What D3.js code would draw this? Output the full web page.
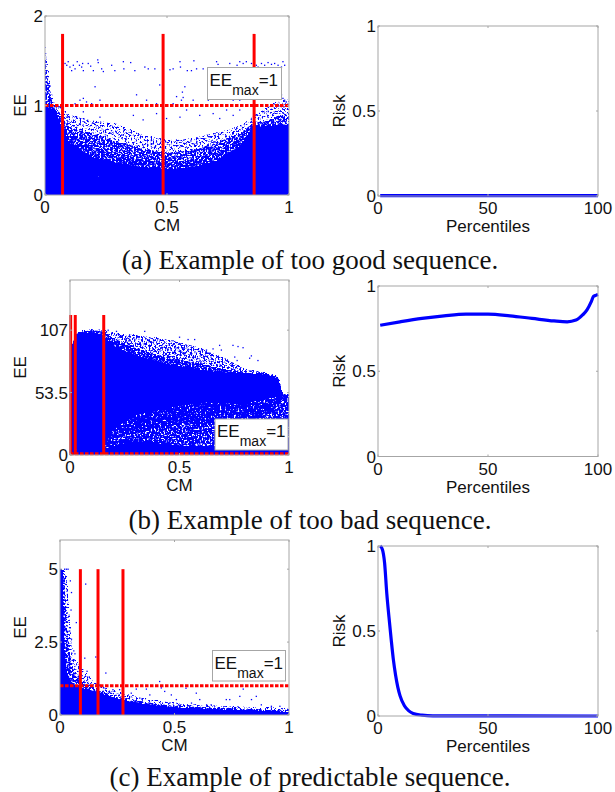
<!DOCTYPE html>
<html>
<head>
<meta charset="utf-8">
<script src="https://cdn.jsdelivr.net/npm/d3@7"></script>
<style>
  html, body { margin: 0; padding: 0; background: #fff; }
  svg { display: block; }
  text { font-family: "Liberation Sans", sans-serif; fill: #111; }
  .caption { font-family: "Liberation Serif", serif; font-size: 27px; }
</style>
</head>
<body>
<div id="host"><svg width="615" height="792"><defs></defs></svg></div>
<script>
const BLUE = "#0000ff";
const RED = "#ff0000";
const AXIS = "#a6a6a6";

const SOLID = 1;
const FULLISH = 0.74;
const NEAR = 0.68;
const THICK = 0.63;
const THIN = 0.54;
const FAINT = 0.49;

// panel (a), too good
const A_X_TICKS = [0, 0.5, 1];
const A_Y_TICKS = [0, 1, 2];
const A_CM = [0, 0.005, 0.01, 0.02, 0.03, 0.04, 0.07, 0.1, 0.2, 0.3, 0.4, 0.5, 0.6, 0.7, 0.8, 0.85, 0.9, 0.95, 1];
const A_SOLID = [1.0, 0.99, 0.98, 0.97, 0.96, 0.95, 0.76, 0.58, 0.42, 0.36, 0.31, 0.29, 0.31, 0.38, 0.55, 0.76, 0.77, 0.78, 0.78];
const A_NEAR = [1.4, 1.3, 1.2, 1.05, 1.0, 0.97, 0.84, 0.68, 0.54, 0.47, 0.4, 0.37, 0.4, 0.48, 0.64, 0.78, 0.79, 0.8, 0.8];
const A_THICK = [1.55, 1.45, 1.35, 1.15, 1.05, 1.0, 0.88, 0.76, 0.68, 0.6, 0.52, 0.47, 0.5, 0.58, 0.7, 0.8, 0.82, 0.88, 0.92];
const A_THIN = [1.68, 1.62, 1.5, 1.32, 1.15, 1.03, 0.98, 0.9, 0.84, 0.8, 0.68, 0.62, 0.64, 0.7, 0.78, 0.88, 0.97, 1.05, 1.08];
const A_SPLITS = [0.072, 0.484, 0.857];
const A_POINTS = [
  [0.068, 1.41], [0.082, 1.47], [0.089, 1.45], [0.095, 1.49], [0.102, 1.43], [0.109, 1.39], [0.116, 1.45], [0.123, 1.41],
  [0.132, 1.49], [0.141, 1.45], [0.15, 1.43], [0.154, 1.47], [0.157, 1.39], [0.177, 1.47], [0.187, 1.44], [0.198, 1.39],
  [0.216, 1.51], [0.218, 1.48], [0.232, 1.41], [0.239, 1.38], [0.273, 1.45], [0.286, 1.39], [0.321, 1.49], [0.323, 1.41],
  [0.351, 1.48], [0.368, 1.39], [0.409, 1.43], [0.423, 1.41], [0.45, 1.41], [0.512, 1.4], [0.525, 1.41], [0.553, 1.49],
  [0.555, 1.43], [0.583, 1.39], [0.6, 1.39], [0.61, 1.5], [0.621, 1.41], [0.648, 1.41], [0.703, 1.49], [0.709, 1.46],
  [0.757, 1.47], [0.787, 1.45], [0.798, 1.49], [0.812, 1.47], [0.825, 1.49], [0.846, 1.47], [0.866, 1.45], [0.873, 1.43],
  [0.887, 1.47], [0.9, 1.45], [0.914, 1.48], [0.928, 1.46], [0.941, 1.47], [0.955, 1.45], [0.975, 1.49], [0.982, 1.45],
  [0.969, 1.43], [0.573, 1.21], [0.563, 1.15], [0.566, 1.09], [0.205, 1.21], [0.47, 1.23], [0.143, 1.06], [0.157, 1.08],
  [0.123, 1.02], [0.17, 1.04], [0.191, 1.02], [0.225, 1.06], [0.375, 1.12], [0.416, 1.06], [0.457, 1.02], [0.525, 1.02],
  [0.539, 1.1], [0.559, 1.06], [0.607, 1.06], [0.669, 1.06], [0.771, 1.06], [0.798, 1.06], [0.907, 1.08], [0.96, 1.08],
  [0.975, 1.08], [0.982, 1.06], [0.989, 1.04], [0.969, 1.12], [0.075, 0.91], [0.089, 0.87], [0.225, 0.87], [0.157, 0.93],
  [0.362, 0.89], [0.402, 0.84], [0.457, 0.91], [0.498, 0.855], [0.553, 0.87], [0.58, 0.95], [0.634, 0.89], [0.689, 0.91],
  [0.744, 0.95], [0.771, 0.89], [0.798, 0.95], [0.716, 0.855]
];

// panel (b), too bad
const B_X_TICKS = [0, 0.5, 1];
const B_Y_TICKS = [0, 53.5, 107];
const B_CM = [0, 0.01, 0.03, 0.05, 0.1, 0.15, 0.2, 0.3, 0.4, 0.5, 0.6, 0.7, 0.8, 0.9, 0.93, 0.95, 0.96, 0.97, 1];
const B_SOLID = [90, 95, 104, 105, 105, 103, 93, 86, 80, 76, 73, 71, 70, 69, 67, 66, 60, 52, 50];
const B_NEAR = [90, 95, 104, 106, 107, 106, 100, 92, 86, 82, 78, 74, 71, 70, 68, 67, 62, 53, 51];
const B_THIN = [90, 95, 105, 107, 108, 108, 105, 103, 101, 97, 92, 84, 74, 71, 69, 68, 63, 54, 52];
const B_HOLE_LOW = [5, 5, 5, 5, 5, 5, 8, 12, 10, 8, 8, 8, 9, 10, 10, 10, 10, 10, 10];
const B_HOLE_HIGH = [5, 5, 5, 5, 5, 5, 22, 34, 38, 42, 45, 44, 44, 48, 49, 50, 50, 50, 50];
const B_CORE_LOW = [12, 12, 12, 12, 12, 12, 14, 14, 13, 10, 9, 9, 10, 12, 14, 15, 15, 15, 15];
const B_CORE_HIGH = [12, 12, 12, 12, 12, 12, 14, 18, 22, 26, 26, 25, 26, 34, 38, 42, 44, 46, 46];
const B_SPLITS = [0.003, 0.024, 0.154];
const B_POINTS = [
  [0.744, 94], [0.767, 93], [0.79, 92], [0.752, 84], [0.763, 81], [0.82, 83], [0.828, 85], [0.858, 81], [0.683, 94],
  [0.691, 90], [0.653, 91], [0.623, 90], [0.569, 99], [0.539, 99], [0.5, 101], [0.47, 98], [0.341, 106], [0.272, 103],
  [0.212, 106], [0.174, 107]
];

// panel (c), predictable
const C_X_TICKS = [0, 0.5, 1];
const C_Y_TICKS = [0, 2.5, 5];
const C_CM = [0, 0.012, 0.016, 0.02, 0.03, 0.04, 0.06, 0.1, 0.15, 0.2, 0.25, 0.3, 0.4, 0.5, 0.6, 0.7, 0.8, 0.9, 1];
const C_SOLID = [5, 5, 3.5, 2.2, 1.5, 1.25, 1.05, 0.92, 0.8, 0.68, 0.56, 0.46, 0.34, 0.27, 0.22, 0.2, 0.17, 0.15, 0.12];
const C_THICK = [5, 5, 5, 4.9, 3.4, 2.3, 1.5, 1.1, 0.9, 0.76, 0.64, 0.54, 0.41, 0.33, 0.28, 0.25, 0.22, 0.2, 0.17];
const C_THIN = [5, 5, 5, 5, 4.8, 3.8, 2, 1.6, 1.15, 0.95, 0.82, 0.72, 0.54, 0.44, 0.37, 0.33, 0.3, 0.28, 0.25];
const C_SPLITS = [0.089, 0.166, 0.275];
const C_POINTS = [
  [0.112, 4.49], [0.071, 3.17], [0.042, 2.88], [0.09, 1.99], [0.108, 1.95], [0.156, 1.99], [0.2, 1.44], [0.118, 1.5],
  [0.435, 1.15], [0.442, 0.93], [0.457, 0.81], [0.392, 0.69], [0.377, 0.89], [0.333, 0.89], [0.486, 0.69], [0.55, 0.92],
  [0.595, 0.75], [0.8, 0.89], [0.857, 0.64], [0.785, 0.64], [0.741, 0.53], [0.726, 0.53], [0.66, 0.35], [0.64, 0.35],
  [0.836, 0.53], [0.879, 0.35], [0.923, 0.3], [0.96, 0.3], [0.61, 0.53], [0.574, 0.41], [0.508, 0.53], [0.479, 0.41],
  [0.392, 0.41], [0.348, 0.58], [0.311, 0.75], [0.26, 0.87], [0.231, 0.87], [0.21, 0.75], [0.19, 0.93], [0.173, 1.03],
  [0.02, 5], [0.028, 5], [0.035, 5], [0.045, 4.6], [0.05, 4.2], [0.048, 3.6], [0.05, 2.6], [0.06, 2.2], [0.065, 2.1]
];

// right column
const RISK_X_TICKS = [0, 50, 100];
const RISK_Y_TICKS = [0, 0.5, 1];
const A_PCT = [1, 25, 50, 75, 100];
const A_RISK = [0.002, 0.002, 0.002, 0.002, 0.002];
const B_PCT = [1, 10, 20, 30, 40, 50, 60, 70, 80, 86, 90, 93, 95, 97, 98, 99, 100];
const B_RISK = [0.77, 0.79, 0.81, 0.825, 0.835, 0.835, 0.825, 0.81, 0.795, 0.79, 0.8, 0.83, 0.86, 0.91, 0.94, 0.945, 0.95];
const C_PCT = [1, 2, 3, 4, 5, 6, 7, 8, 9, 10, 12, 14, 16, 20, 25, 100];
const C_RISK = [1, 0.98, 0.9, 0.72, 0.58, 0.45, 0.33, 0.24, 0.17, 0.12, 0.06, 0.03, 0.015, 0.005, 0.001, 0];

const CAPTIONS = ["(a) Example of too good sequence.", "(b) Example of too bad sequence.", "(c) Example of predictable sequence."];

const svg = d3.select("#host svg");
const defs = svg.select("defs");

// stipple: alpha of the band decides how much of the noise survives
function addStipple(id, seed) {
  const f = defs.append("filter").attr("id", id)
    .attr("filterUnits", "userSpaceOnUse")
    .attr("x", 0).attr("y", 0).attr("width", 615).attr("height", 792)
    .attr("color-interpolation-filters", "sRGB");
  f.append("feTurbulence").attr("type", "fractalNoise").attr("baseFrequency", 0.55)
    .attr("numOctaves", 2).attr("seed", seed).attr("result", "noise");
  f.append("feComposite").attr("in", "SourceAlpha").attr("in2", "noise")
    .attr("operator", "arithmetic").attr("k1", 0).attr("k2", 1).attr("k3", 1).attr("k4", -1).attr("result", "sum");
  const t = f.append("feComponentTransfer").attr("in", "sum").attr("result", "mask");
  t.append("feFuncA").attr("type", "linear").attr("slope", 8).attr("intercept", 0);
  f.append("feFlood").attr("flood-color", BLUE).attr("result", "ink");
  f.append("feComposite").attr("in", "ink").attr("in2", "mask").attr("operator", "in");
}

function axes(g, x, y, xTicks, yTicks, xTitle, yTitle, titleX) {
  const [x0, x1] = x.range();
  const [y0, y1] = y.range();
  g.append("rect").attr("x", x0).attr("y", y1).attr("width", x1 - x0).attr("height", y0 - y1)
    .attr("fill", "none").attr("stroke", AXIS).attr("stroke-width", 1);

  const lines = g.append("g").attr("stroke", AXIS).attr("stroke-width", 1);
  for (const t of xTicks) {
    lines.append("line").attr("x1", x(t)).attr("x2", x(t)).attr("y1", y0).attr("y2", y0 - 2);
    lines.append("line").attr("x1", x(t)).attr("x2", x(t)).attr("y1", y1).attr("y2", y1 + 2);
    g.append("text").attr("x", x(t)).attr("y", y0 + 18).attr("text-anchor", "middle")
      .attr("font-size", 17).text(t);
  }
  for (const t of yTicks) {
    lines.append("line").attr("x1", x0).attr("x2", x0 + 2).attr("y1", y(t)).attr("y2", y(t));
    lines.append("line").attr("x1", x1).attr("x2", x1 - 2).attr("y1", y(t)).attr("y2", y(t));
    g.append("text").attr("x", x0 - 2).attr("y", y(t) + 6).attr("text-anchor", "end")
      .attr("font-size", 17).text(t);
  }
  g.append("text").attr("x", (x0 + x1) / 2).attr("y", y0 + 36).attr("text-anchor", "middle")
    .attr("font-size", 17).text(xTitle);
  g.append("text").attr("transform", `translate(${titleX},${(y0 + y1) / 2}) rotate(-90)`)
    .attr("text-anchor", "middle").attr("font-size", 17).text(yTitle);
}

function band(g, x, y, xs, lo, hi, alpha) {
  const area = d3.area()
    .x((d, i) => x(xs[i]))
    .y0((d, i) => y(lo ? lo[i] : 0))
    .y1((d, i) => y(hi[i]));
  g.append("path").attr("d", area(xs)).attr("fill", "#000").attr("fill-opacity", alpha);
}

function legend(g, bx, by, w, h) {
  g.append("rect").attr("x", bx).attr("y", by).attr("width", w).attr("height", h)
    .attr("fill", "#fff").attr("stroke", AXIS).attr("stroke-width", 1);
  const t = g.append("text").attr("x", bx + 2).attr("y", by + 18).attr("font-size", 17);
  t.append("tspan").text("EE");
  t.append("tspan").attr("dy", 9).attr("font-size", 14).text("max");
  t.append("tspan").attr("dy", -9).text("=1");
}

function scatter(box, domainY, cfg) {
  const x = d3.scaleLinear().domain([0, 1]).range([box.left, box.right]);
  const y = d3.scaleLinear().domain(domainY).range([box.bottom, box.top]);
  const g = svg.append("g");
  const marks = g.append("g").attr("filter", `url(#${cfg.filter})`);
  cfg.bands(marks, x, y);
  g.append("g").selectAll("rect").data(cfg.points).join("rect")
    .attr("x", (d) => x(d[0]) - 0.6).attr("y", (d) => y(d[1]) - 0.6)
    .attr("width", 1.3).attr("height", 1.3).attr("fill", BLUE);

  g.append("line").attr("x1", box.left).attr("x2", box.right).attr("y1", y(1)).attr("y2", y(1))
    .attr("stroke", RED).attr("stroke-width", 3).attr("stroke-dasharray", "3.5,1.5");
  g.selectAll("line.split").data(cfg.splits).join("line").attr("class", "split")
    .attr("x1", (d) => x(d)).attr("x2", (d) => x(d))
    .attr("y1", y(0)).attr("y2", y(cfg.splitTop))
    .attr("stroke", RED).attr("stroke-width", 3);

  axes(g, x, y, cfg.xTicks, cfg.yTicks, "CM", "EE", 26);
  legend(g, ...cfg.legend);
}

function risk(box, xs, ys) {
  const x = d3.scaleLinear().domain([0, 100]).range([box.left, box.right]);
  const y = d3.scaleLinear().domain([0, 1]).range([box.bottom, box.top]);
  const g = svg.append("g");
  const line = d3.line().x((d) => x(d)).y((d, i) => y(ys[i])).curve(d3.curveMonotoneX);
  g.append("path").attr("d", line(xs)).attr("fill", "none").attr("stroke", BLUE).attr("stroke-width", 3.2);
  axes(g, x, y, RISK_X_TICKS, RISK_Y_TICKS, "Percentiles", "Risk", 345);
}

addStipple("stippleA", 4);
addStipple("stippleB", 9);
addStipple("stippleC", 13);

scatter({ left: 45, right: 289, top: 16, bottom: 195 }, [0, 2], {
  filter: "stippleA", points: A_POINTS, splits: A_SPLITS, splitTop: 1.8,
  xTicks: A_X_TICKS, yTicks: A_Y_TICKS, legend: [207.5, 67.5, 74, 32],
  bands(g, x, y) {
    band(g, x, y, A_CM, A_THICK, A_THIN, FAINT);
    band(g, x, y, A_CM, A_NEAR, A_THICK, THICK);
    band(g, x, y, A_CM, A_SOLID, A_NEAR, NEAR);
    band(g, x, y, A_CM, null, A_SOLID, SOLID);
  },
});

scatter({ left: 70, right: 289, top: 280, bottom: 455 }, [0, 150], {
  filter: "stippleB", points: B_POINTS, splits: B_SPLITS, splitTop: 120,
  xTicks: B_X_TICKS, yTicks: B_Y_TICKS, legend: [215, 419, 73, 31],
  bands(g, x, y) {
    band(g, x, y, B_CM, B_NEAR, B_THIN, THIN);
    band(g, x, y, B_CM, B_SOLID, B_NEAR, NEAR);
    band(g, x, y, B_CM, B_HOLE_HIGH, B_SOLID, SOLID);
    band(g, x, y, B_CM, B_CORE_HIGH, B_HOLE_HIGH, FULLISH);
    band(g, x, y, B_CM, B_CORE_LOW, B_CORE_HIGH, NEAR);
    band(g, x, y, B_CM, B_HOLE_LOW, B_CORE_LOW, FULLISH);
    band(g, x, y, B_CM, null, B_HOLE_LOW, SOLID);
  },
});

scatter({ left: 60, right: 289, top: 540, bottom: 715 }, [0, 6], {
  filter: "stippleC", points: C_POINTS, splits: C_SPLITS, splitTop: 5,
  xTicks: C_X_TICKS, yTicks: C_Y_TICKS, legend: [212.5, 650.5, 73, 30.5],
  bands(g, x, y) {
    band(g, x, y, C_CM, C_THICK, C_THIN, FAINT);
    band(g, x, y, C_CM, C_SOLID, C_THICK, THICK);
    band(g, x, y, C_CM, null, C_SOLID, SOLID);
  },
});

risk({ left: 378, right: 598, top: 26, bottom: 196 }, A_PCT, A_RISK);
risk({ left: 378, right: 598, top: 286, bottom: 456.5 }, B_PCT, B_RISK);
risk({ left: 378, right: 598, top: 546, bottom: 716 }, C_PCT, C_RISK);

svg.selectAll("text.caption").data(CAPTIONS).join("text").attr("class", "caption")
  .attr("x", 310).attr("y", (d, i) => [269, 529, 786][i])
  .attr("text-anchor", "middle").text((d) => d);
</script>
</body>
</html>
